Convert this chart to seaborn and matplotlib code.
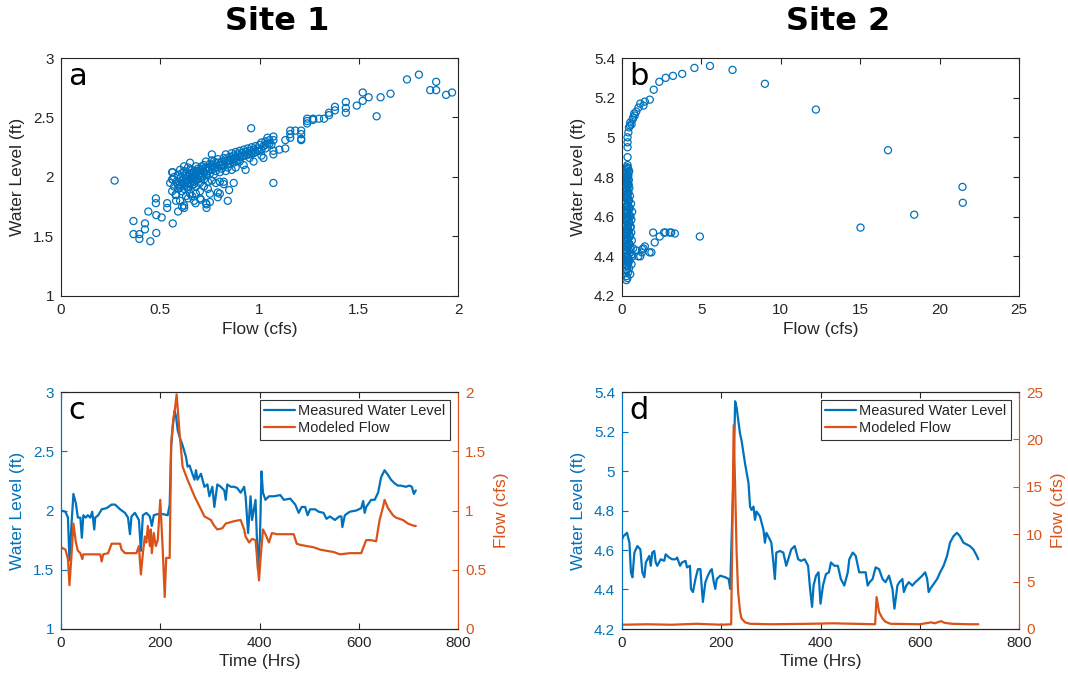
import numpy as np
import pandas as pd
import matplotlib
matplotlib.use("Agg")
import matplotlib.pyplot as plt
import seaborn as sns
from matplotlib.lines import Line2D

# ---------------- data ----------------
# Panel a: Site 1 flow (cfs) vs water level (ft)
a_flow = [0.27, 0.365, 0.365, 0.395, 0.395, 0.423, 0.423, 0.44, 0.45, 0.478, 0.478, 0.48, 0.48,
          0.507, 0.535, 0.535, 0.563, 0.563, 0.563, 0.577, 0.59, 0.62,
          0.55, 0.56, 0.56, 0.56, 0.57, 0.57, 0.58, 0.58, 0.59, 0.59, 0.60, 0.60, 0.60, 0.61, 0.61, 0.61,
          0.62, 0.62, 0.62, 0.63, 0.63, 0.63, 0.64, 0.64, 0.64, 0.65, 0.65, 0.65, 0.66, 0.66, 0.66,
          0.67, 0.67, 0.67, 0.68, 0.68, 0.68, 0.69, 0.69, 0.70, 0.70, 0.70, 0.71, 0.71, 0.72, 0.72, 0.72,
          0.73, 0.73, 0.73, 0.74, 0.74, 0.75, 0.75, 0.75, 0.76, 0.76, 0.76, 0.77, 0.77, 0.78, 0.78, 0.78,
          0.79, 0.79, 0.80, 0.80, 0.80, 0.81, 0.81, 0.82, 0.82, 0.83, 0.83, 0.83, 0.84, 0.84, 0.85, 0.85,
          0.86, 0.86, 0.86, 0.87, 0.87, 0.88, 0.88, 0.88, 0.89, 0.90, 0.90, 0.90, 0.91, 0.92, 0.92, 0.92,
          0.93, 0.94, 0.94, 0.95, 0.95, 0.96, 0.96, 0.97, 0.98, 0.98, 0.99, 1.00, 1.00, 1.01, 1.01, 1.02,
          1.03, 1.03, 1.04, 1.04, 1.05, 1.06, 1.07, 1.07, 1.07, 1.07, 1.10, 1.13, 1.13,
          0.58, 0.61, 0.66, 0.70, 0.75, 0.80, 0.84, 0.847, 0.87, 0.79, 0.79, 0.733, 0.733, 0.678, 0.705,
          0.82, 0.82, 0.76, 0.73, 0.958, 1.07, 0.64, 0.68, 0.74, 0.93, 0.97, 1.02, 0.60, 0.62, 0.65,
          0.59, 0.60, 0.61, 0.62, 0.62, 0.63, 0.63, 0.64, 0.64, 0.65, 0.65, 0.66, 0.66, 0.67, 0.67,
          0.68, 0.68, 0.69, 0.69, 0.70, 0.70, 0.71, 0.71, 0.72, 0.73, 0.74, 0.75, 0.76, 0.77, 0.79,
          0.81, 0.83, 0.85, 0.87, 0.89, 0.91, 0.93, 0.95, 0.97, 0.99, 1.01, 1.03, 1.05, 0.84, 0.88,
          1.155, 1.155, 1.155, 1.18, 1.21, 1.21, 1.21, 1.21, 1.24, 1.24, 1.24, 1.27, 1.27, 1.30, 1.325,
          1.35, 1.35, 1.38, 1.38, 1.435, 1.435, 1.435, 1.49, 1.52, 1.52, 1.55, 1.59, 1.61, 1.66,
          1.743, 1.803, 1.86, 1.89, 1.89, 1.94, 1.97]
a_wl = [1.97, 1.63, 1.52, 1.52, 1.48, 1.61, 1.56, 1.71, 1.46, 1.82, 1.78, 1.68, 1.53,
        1.66, 1.78, 1.74, 2.04, 1.98, 1.61, 1.85, 1.71, 1.74,
        1.95, 2.04, 1.98, 1.88, 1.92, 2.00, 1.85, 1.96, 1.90, 2.02, 1.94, 1.99, 1.80, 1.97, 2.03, 1.88,
        1.93, 2.05, 1.76, 1.98, 2.01, 1.84, 1.95, 2.08, 1.90, 1.99, 2.03, 1.86, 1.97, 2.06, 1.93,
        2.00, 1.96, 1.80, 2.02, 2.09, 1.92, 1.98, 2.05, 2.03, 1.95, 1.88, 2.07, 2.00, 2.04, 2.10, 1.92,
        2.02, 2.08, 1.78, 2.05, 1.96, 2.11, 2.03, 1.86, 2.06, 2.14, 1.97, 2.09, 2.02, 2.12, 2.05, 1.95,
        2.08, 2.15, 2.10, 2.04, 1.96, 2.13, 2.07, 2.16, 2.09, 2.12, 2.19, 2.05, 2.14, 2.08, 2.17, 2.11,
        2.15, 2.20, 2.06, 2.18, 2.12, 2.16, 2.21, 2.08, 2.19, 2.17, 2.22, 2.13, 2.20, 2.18, 2.23, 2.10,
        2.21, 2.19, 2.24, 2.22, 2.16, 2.25, 2.20, 2.23, 2.26, 2.21, 2.24, 2.27, 2.22, 2.29, 2.18, 2.26,
        2.30, 2.24, 2.28, 2.33, 2.31, 2.27, 2.34, 2.31, 2.22, 2.19, 2.23, 2.31, 2.24,
        1.80, 1.75, 1.84, 1.82, 1.79, 1.86, 1.80, 1.89, 1.95, 1.87, 1.83, 1.77, 1.74, 1.78, 1.81,
        1.96, 1.94, 2.19, 2.13, 2.41, 1.95, 1.82, 1.86, 1.90, 2.06, 2.13, 2.16, 2.06, 2.09, 2.12,
        1.93, 1.91, 1.95, 1.99, 1.90, 1.96, 2.03, 1.92, 2.00, 1.94, 2.06, 1.99, 2.02, 1.94, 2.04,
        1.97, 2.05, 2.01, 2.07, 1.99, 2.06, 2.02, 2.09, 1.98, 2.06, 2.08, 2.07, 2.10, 2.13, 2.12,
        2.10, 2.15, 2.14, 2.15, 2.14, 2.17, 2.18, 2.19, 2.20, 2.22, 2.23, 2.27, 2.28, 2.11, 2.13,
        2.39, 2.36, 2.33, 2.39, 2.39, 2.36, 2.32, 2.31, 2.49, 2.47, 2.45, 2.49, 2.48, 2.49, 2.49,
        2.54, 2.52, 2.59, 2.56, 2.63, 2.58, 2.54, 2.60, 2.64, 2.71, 2.67, 2.51, 2.67, 2.70,
        2.82, 2.86, 2.73, 2.73, 2.80, 2.69, 2.71]

# Panel b: Site 2 flow (cfs) vs water level (ft)
b_flow = [0.35, 0.35, 0.35, 0.35, 0.35, 0.40, 0.44, 0.52, 0.67, 0.77, 0.90, 1.04, 1.15, 1.35, 1.44,
          1.75, 2.0, 2.35, 2.75, 3.21, 3.79, 4.56, 5.54, 6.96, 9.0, 12.21, 16.75, 21.44, 21.46, 18.4,
          15.02, 4.9, 3.33, 3.1, 3.0, 2.73, 2.65, 2.375, 1.96, 2.06, 1.85, 1.73, 1.44, 1.35, 1.27, 1.15,
          1.02, 0.60, 0.50, 0.80, 0.70, 0.90, 0.55, 0.62, 1.25, 0.45, 0.38,
          0.30, 0.34, 0.28, 0.40, 0.32, 0.26, 0.36, 0.30, 0.42, 0.24, 0.33, 0.29, 0.38, 0.27, 0.35,
          0.31, 0.44, 0.25, 0.37, 0.30, 0.48, 0.33, 0.27, 0.41, 0.52, 0.29, 0.36, 0.46, 0.24, 0.55,
          0.32, 0.40, 0.58, 0.28, 0.50, 0.35, 0.62, 0.26, 0.45, 0.38, 0.70, 0.30, 0.54, 0.42, 0.66,
          0.27, 0.48, 0.35, 0.60, 0.31, 0.44, 0.25, 0.39, 0.52, 0.29, 0.34, 0.47, 0.26, 0.37, 0.31,
          0.28, 0.33, 0.27, 0.30, 0.29, 0.32, 0.26, 0.30, 0.28,
          0.38, 0.22, 0.41, 0.27, 0.36, 0.31, 0.43, 0.23, 0.39, 0.34, 0.46, 0.28, 0.40, 0.33, 0.50,
          0.25, 0.43, 0.37, 0.57, 0.29, 0.47, 0.35, 0.64, 0.31, 0.51, 0.39, 0.59, 0.27, 0.45, 0.36,
          0.53, 0.30, 0.42, 0.34, 0.49, 0.26, 0.38, 0.32, 0.44, 0.29, 0.35, 0.24, 0.33, 0.28, 0.31,
          0.36, 0.41, 0.27, 0.39, 0.32]
b_wl = [5.00, 4.975, 4.95, 4.90, 4.86, 5.025, 5.05, 5.075, 5.09, 5.12, 5.13, 5.15, 5.17, 5.16, 5.18,
        5.19, 5.24, 5.28, 5.30, 5.31, 5.32, 5.35, 5.36, 5.34, 5.27, 5.14, 4.935, 4.75, 4.67, 4.61,
        4.545, 4.50, 4.515, 4.52, 4.52, 4.52, 4.52, 4.50, 4.52, 4.47, 4.42, 4.42, 4.45, 4.44, 4.435, 4.40,
        4.40, 5.065, 5.06, 5.11, 5.10, 4.43, 4.44, 4.41, 4.42, 4.83, 4.80,
        4.85, 4.84, 4.82, 4.81, 4.80, 4.79, 4.78, 4.77, 4.76, 4.75, 4.74, 4.73, 4.72, 4.71, 4.70,
        4.69, 4.68, 4.67, 4.66, 4.65, 4.64, 4.63, 4.62, 4.61, 4.60, 4.59, 4.58, 4.57, 4.56, 4.55,
        4.54, 4.53, 4.52, 4.51, 4.50, 4.49, 4.48, 4.47, 4.46, 4.45, 4.44, 4.43, 4.42, 4.41, 4.40,
        4.39, 4.38, 4.37, 4.36, 4.35, 4.34, 4.33, 4.32, 4.31, 4.30, 4.29, 4.46, 4.50, 4.55, 4.60,
        4.65, 4.70, 4.58, 4.52, 4.48, 4.62, 4.38, 4.33, 4.28,
        4.845, 4.835, 4.825, 4.815, 4.805, 4.795, 4.785, 4.775, 4.765, 4.755, 4.745, 4.735, 4.725,
        4.715, 4.705, 4.695, 4.685, 4.675, 4.665, 4.655, 4.645, 4.635, 4.625, 4.615, 4.605, 4.595,
        4.585, 4.575, 4.565, 4.555, 4.545, 4.535, 4.525, 4.515, 4.505, 4.495, 4.485, 4.475, 4.465,
        4.455, 4.445, 4.435, 4.425, 4.415, 4.405, 4.395, 4.385, 4.375, 4.365, 4.355]

# Panel c: Site 1 time series (hours, water level ft / modeled flow cfs)
c_time = [0, 9, 14, 17, 21, 25, 30, 34, 39, 42, 45, 50, 54, 59, 63, 67, 69, 75, 82, 92, 102, 109,
          119, 129, 135, 139, 142, 149, 157, 161, 165, 172, 179, 183, 187, 195, 205, 215, 219, 222,
          225, 229, 232, 235, 239, 245, 252, 255, 259, 263, 269, 272, 275, 282, 289, 295, 299, 305,
          309, 315, 322, 329, 332, 335, 342, 349, 355, 362, 369, 372, 377, 382, 385, 392, 397, 401,
          404, 407, 412, 419, 429, 442, 449, 462, 472, 479, 485, 492, 497, 502, 512, 519, 529, 535,
          542, 552, 561, 565, 567, 572, 582, 595, 605, 609, 612, 615, 625, 632, 639, 645, 652, 659,
          665, 672, 679, 685, 695, 702, 707, 711, 715]
c_level = [2.00, 1.99, 1.94, 1.58, 1.87, 2.14, 2.06, 1.94, 1.94, 1.77, 1.96, 1.94, 1.96, 1.94, 1.99,
           1.84, 1.94, 1.96, 2.01, 2.02, 2.05, 2.05, 2.01, 1.98, 1.94, 1.80, 1.95, 1.98, 1.92, 1.66,
           1.96, 1.98, 1.95, 1.87, 1.96, 1.97, 1.97, 1.96, 2.05, 2.54, 2.70, 2.84, 2.79, 2.68, 2.62,
           2.55, 2.45, 2.37, 2.38, 2.33, 2.26, 2.34, 2.26, 2.31, 2.20, 2.22, 2.12, 2.20, 2.03, 2.22,
           2.20, 2.17, 2.09, 2.22, 2.20, 2.20, 2.19, 2.15, 2.20, 2.12, 1.81, 2.12, 1.92, 2.09, 1.50,
           1.78, 2.33, 2.15, 2.09, 2.12, 2.12, 2.13, 2.09, 2.10, 2.05, 1.98, 2.03, 2.03, 1.96, 2.01,
           2.01, 1.99, 1.98, 1.93, 1.95, 1.92, 1.95, 1.95, 1.86, 1.96, 1.99, 2.00, 2.02, 2.08, 1.98,
           2.03, 2.09, 2.09, 2.15, 2.28, 2.34, 2.30, 2.26, 2.23, 2.21, 2.21, 2.20, 2.21, 2.20, 2.14, 2.17]
c_ftime = [0, 9, 14, 17, 21, 25, 30, 34, 39, 43, 45, 55, 69, 79, 82, 85, 95, 102, 109, 119, 122, 129,
           142, 152, 157, 161, 165, 169, 172, 175, 179, 181, 183, 187, 191, 195, 200, 205, 209, 212,
           219, 222, 226, 230, 233, 235, 239, 245, 255, 269, 282, 289, 302, 309, 315, 325, 332, 349,
           362, 369, 372, 379, 385, 392, 399, 402, 407, 412, 419, 425, 435, 469, 475, 482, 495, 509,
           522, 535, 549, 562, 582, 595, 605, 615, 625, 635, 642, 649, 652, 659, 669, 675, 689, 699,
           705, 712, 715]
c_flow = [0.69, 0.67, 0.59, 0.37, 0.61, 0.89, 0.73, 0.66, 0.64, 0.59, 0.63, 0.63, 0.63, 0.63, 0.57,
          0.63, 0.64, 0.72, 0.72, 0.72, 0.67, 0.64, 0.64, 0.64, 0.70, 0.46, 0.64, 0.78, 0.73, 0.87,
          0.70, 0.84, 0.64, 0.81, 0.70, 0.75, 1.09, 0.67, 0.27, 0.60, 0.60, 1.56, 1.76, 1.87, 1.98,
          1.87, 1.65, 1.37, 1.26, 1.12, 1.01, 0.95, 0.92, 0.87, 0.84, 0.85, 0.89, 0.91, 0.92, 0.84,
          0.78, 0.73, 0.76, 0.75, 0.41, 0.59, 0.84, 0.80, 0.73, 0.81, 0.80, 0.80, 0.72, 0.71, 0.70,
          0.69, 0.67, 0.66, 0.65, 0.63, 0.64, 0.64, 0.64, 0.75, 0.75, 0.74, 0.92, 1.03, 1.09, 1.02,
          0.96, 0.94, 0.92, 0.89, 0.88, 0.87, 0.87]

# Panel d: Site 2 time series
d_time = [0, 3, 10, 15, 18, 21, 25, 31, 37, 41,
          45, 48, 55, 58, 61, 65, 68, 71, 78, 85,
          88, 95, 101, 108, 111, 117, 121, 128, 131, 137,
          139, 143, 148, 153, 158, 163, 168, 173, 178, 181,
          185, 188, 191, 198, 208, 215, 218, 221, 225, 228,
          231, 238, 241, 248, 255, 258, 261, 265, 268, 271,
          278, 285, 288, 291, 298, 301, 305, 308, 311, 318,
          325, 331, 335, 341, 348, 355, 361, 368, 375, 379,
          383, 386, 391, 396, 400, 405, 411, 417, 421, 428,
          435, 441, 448, 455, 458, 465, 471, 478, 485, 491,
          495, 499, 505, 511, 518, 525, 531, 538, 545, 549,
          555, 559, 565, 568, 573, 578, 585, 591, 598, 605,
          611, 615, 618, 621, 628, 635, 641, 648, 655, 661,
          668, 675, 681, 688, 695, 701, 708, 715, 718]
d_level = [4.653, 4.670, 4.687, 4.637, 4.487, 4.462, 4.587, 4.620, 4.603, 4.487,
           4.462, 4.537, 4.570, 4.520, 4.587, 4.595, 4.537, 4.520, 4.553, 4.545,
           4.578, 4.562, 4.553, 4.553, 4.562, 4.520, 4.537, 4.545, 4.512, 4.520,
           4.403, 4.387, 4.453, 4.503, 4.503, 4.337, 4.437, 4.470, 4.495, 4.503,
           4.437, 4.403, 4.453, 4.470, 4.462, 4.453, 4.403, 4.670, 5.003, 5.353,
           5.320, 5.187, 5.153, 5.037, 4.937, 4.820, 4.803, 4.820, 4.753, 4.795,
           4.770, 4.703, 4.637, 4.687, 4.653, 4.637, 4.537, 4.453, 4.587, 4.595,
           4.587, 4.520, 4.553, 4.603, 4.620, 4.553, 4.545, 4.553, 4.520, 4.403,
           4.312, 4.420, 4.470, 4.487, 4.328, 4.420, 4.478, 4.487, 4.537, 4.520,
           4.520, 4.453, 4.420, 4.487, 4.553, 4.587, 4.570, 4.487, 4.487, 4.487,
           4.420, 4.437, 4.453, 4.512, 4.503, 4.453, 4.437, 4.470, 4.403, 4.303,
           4.420, 4.437, 4.453, 4.387, 4.420, 4.437, 4.420, 4.437, 4.453, 4.470,
           4.487, 4.453, 4.387, 4.403, 4.428, 4.453, 4.487, 4.520, 4.570, 4.637,
           4.670, 4.687, 4.670, 4.637, 4.628, 4.620, 4.603, 4.570, 4.553]
d_ftime = [0, 50, 100, 150, 200, 220, 225, 228, 231, 234,
           238, 241, 248, 258, 300, 380, 425, 510, 513, 518,
           525, 531, 541, 600, 623, 630, 643, 650, 665, 700,
           718]
d_flow = [0.45, 0.5, 0.45, 0.55, 0.45, 0.5, 21.5, 15.0, 8.0, 3.9,
          1.8, 1.1, 0.7, 0.55, 0.5, 0.55, 0.6, 0.5, 3.37, 1.8,
          1.1, 0.76, 0.55, 0.5, 0.7, 0.6, 0.83, 0.65, 0.55, 0.5,
          0.5]

# ---------------- style ----------------
sns.set_theme(style="white")
plt.rcParams["font.family"] = ["Liberation Sans", "DejaVu Sans"]
plt.rcParams["xtick.direction"] = "in"
plt.rcParams["ytick.direction"] = "in"

BLUE = "#0072BD"
ORANGE = "#D95319"
DARK = "#262626"
TICK_FS = 11
LAB_FS = 12.5

fig = plt.figure(figsize=(10.68, 6.77), dpi=100)
W, H = 1068, 677


def add_ax(x0, x1, ytop, ybot):
    return fig.add_axes([x0 / W, 1 - ybot / H, (x1 - x0) / W, (ybot - ytop) / H])


ax_a = add_ax(61, 458, 58, 296)
ax_b = add_ax(622, 1019, 58, 296)
ax_c = add_ax(61, 458, 392, 629)
ax_d = add_ax(622, 1019, 392, 629)


def style_box(ax):
    for s in ax.spines.values():
        s.set_color(DARK)
        s.set_linewidth(0.8)
    ax.tick_params(axis="both", which="both", direction="in", top=True, right=True,
                   length=4, width=0.8, color=DARK, labelsize=TICK_FS, labelcolor=DARK, pad=5)


# Panel a
sns.scatterplot(x=a_flow, y=a_wl, ax=ax_a, marker="o", s=26, facecolors="none",
                edgecolor=BLUE, linewidth=0.9)
ax_a.set_xlim(0, 2)
ax_a.set_ylim(1, 3)
ax_a.set_xticks([0, 0.5, 1, 1.5, 2])
ax_a.set_xticklabels(["0", "0.5", "1", "1.5", "2"])
ax_a.set_yticks([1, 1.5, 2, 2.5, 3])
ax_a.set_yticklabels(["1", "1.5", "2", "2.5", "3"])
style_box(ax_a)
ax_a.set_xlabel("Flow (cfs)", fontsize=LAB_FS, color=DARK, labelpad=4)
ax_a.set_ylabel("Water Level (ft)", fontsize=LAB_FS, color=DARK, labelpad=6)

# Panel b
sns.scatterplot(x=b_flow, y=b_wl, ax=ax_b, marker="o", s=26, facecolors="none",
                edgecolor=BLUE, linewidth=0.9)
ax_b.set_xlim(0, 25)
ax_b.set_ylim(4.2, 5.4)
ax_b.set_xticks([0, 5, 10, 15, 20, 25])
ax_b.set_yticks([4.2, 4.4, 4.6, 4.8, 5.0, 5.2, 5.4])
ax_b.set_yticklabels(["4.2", "4.4", "4.6", "4.8", "5", "5.2", "5.4"])
style_box(ax_b)
ax_b.set_xlabel("Flow (cfs)", fontsize=LAB_FS, color=DARK, labelpad=4)
ax_b.set_ylabel("Water Level (ft)", fontsize=LAB_FS, color=DARK, labelpad=6)


def time_panel(ax, t, lev, ft, fl, ylim, yticks, ylabels, y2lim, y2ticks, y2labels):
    sns.lineplot(x=t, y=lev, ax=ax, color=BLUE, linewidth=1.6, sort=False)
    ax2 = ax.twinx()
    sns.lineplot(x=ft, y=fl, ax=ax2, color=ORANGE, linewidth=1.6, sort=False)
    ax.set_xlim(0, 800)
    ax.set_ylim(*ylim)
    ax2.set_ylim(*y2lim)
    ax.set_xticks([0, 200, 400, 600, 800])
    ax.set_yticks(yticks)
    ax.set_yticklabels(ylabels)
    ax2.set_yticks(y2ticks)
    ax2.set_yticklabels(y2labels)
    for a in (ax, ax2):
        a.spines["top"].set_color(DARK)
        a.spines["bottom"].set_color(DARK)
        a.spines["left"].set_color(BLUE)
        a.spines["right"].set_color(ORANGE)
        for s in a.spines.values():
            s.set_linewidth(0.8)
    ax.tick_params(axis="x", direction="in", top=True, bottom=True, length=4, width=0.8,
                   color=DARK, labelsize=TICK_FS, labelcolor=DARK, pad=5)
    ax.tick_params(axis="y", direction="in", left=True, right=False, length=4, width=0.8,
                   color=BLUE, labelsize=TICK_FS, labelcolor=BLUE, pad=5)
    ax2.tick_params(axis="y", direction="in", right=True, left=False, length=4, width=0.8,
                    color=ORANGE, labelsize=TICK_FS, labelcolor=ORANGE, pad=5)
    ax.set_xlabel("Time (Hrs)", fontsize=LAB_FS, color=DARK, labelpad=3)
    ax.set_ylabel("Water Level (ft)", fontsize=LAB_FS, color=BLUE, labelpad=6)
    ax2.set_ylabel("Flow (cfs)", fontsize=LAB_FS, color=ORANGE, labelpad=6)
    handles = [Line2D([], [], color=BLUE, lw=1.6), Line2D([], [], color=ORANGE, lw=1.6)]
    leg = ax2.legend(handles, ["Measured Water Level", "Modeled Flow"], loc="upper right",
                     fontsize=10.5, frameon=True, fancybox=False, framealpha=1,
                     edgecolor="#333333", borderaxespad=0.55, handlelength=2.1,
                     handletextpad=0.25, borderpad=0.3, labelspacing=0.2)
    leg.get_frame().set_linewidth(0.8)
    return ax2


ax_c2 = time_panel(ax_c, c_time, c_level, c_ftime, c_flow, (1, 3), [1, 1.5, 2, 2.5, 3],
                   ["1", "1.5", "2", "2.5", "3"], (0, 2), [0, 0.5, 1, 1.5, 2],
                   ["0", "0.5", "1", "1.5", "2"])
ax_d2 = time_panel(ax_d, d_time, d_level, d_ftime, d_flow, (4.2, 5.4),
                   [4.2, 4.4, 4.6, 4.8, 5.0, 5.2, 5.4],
                   ["4.2", "4.4", "4.6", "4.8", "5", "5.2", "5.4"], (0, 25),
                   [0, 5, 10, 15, 20, 25], ["0", "5", "10", "15", "20", "25"])

# panel letters
for ax, lab in [(ax_a, "a"), (ax_b, "b"), (ax_c2, "c"), (ax_d2, "d")]:
    ax.text(0.018, 0.985, lab, transform=ax.transAxes, ha="left", va="top",
            fontsize=22, family="DejaVu Sans", color="black")

# column titles
fig.text(277 / W, 1 - 22 / H, "Site 1", ha="center", va="center", fontsize=23,
         fontweight="bold", family="DejaVu Sans", color="black")
fig.text(838 / W, 1 - 22 / H, "Site 2", ha="center", va="center", fontsize=23,
         fontweight="bold", family="DejaVu Sans", color="black")

fig.savefig("out.png", dpi=100)
